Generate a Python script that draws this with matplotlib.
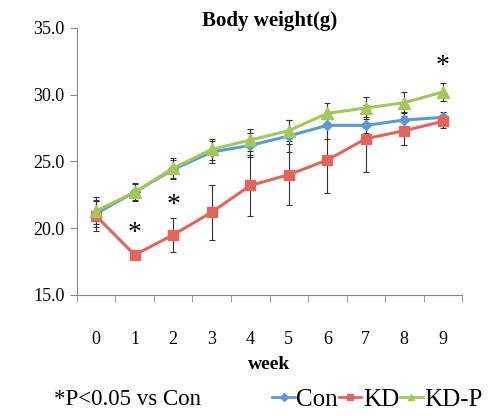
import numpy as np
import matplotlib
matplotlib.use("Agg")
import matplotlib.pyplot as plt
from matplotlib.lines import Line2D

plt.rcParams['font.family'] = ['Liberation Serif', 'DejaVu Serif']

weeks = [0, 1, 2, 3, 4, 5, 6, 7, 8, 9]
con = [21.1, 22.7, 24.4, 25.7, 26.2, 26.9, 27.7, 27.7, 28.1, 28.3]
kd = [20.9, 18.0, 19.5, 21.2, 23.2, 24.0, 25.1, 26.7, 27.3, 28.0]
kdp = [21.3, 22.7, 24.5, 25.9, 26.6, 27.3, 28.6, 29.0, 29.4, 30.2]
con_err = [1.0, 0.6, 0.7, 0.8, 0.9, 1.2, 1.0, 0.6, 0.6, 0.4]
kd_err = [1.1, 0.3, 1.25, 2.05, 2.3, 2.3, 2.5, 2.5, 1.1, 0.5]
kdp_err = [1.0, 0.7, 0.75, 0.8, 0.8, 0.8, 0.8, 0.8, 0.8, 0.7]
star_weeks = [1, 2, 9]
star_y = [19.6, 21.7, 32.1]

c_con = '#5B9BD5'
c_kd = '#E0665C'
c_kdp = '#A5C65A'

fig = plt.figure(figsize=(4.9, 4.16), dpi=100)
ax = fig.add_axes([0.157, 0.291, 0.786, 0.642])

for y, e, c, m, ms in [(con, con_err, c_con, 'D', 5),
                       (kd, kd_err, c_kd, 's', 7),
                       (kdp, kdp_err, c_kdp, '^', 8)]:
    ax.errorbar(weeks, y, yerr=e, fmt='none', ecolor='#333333', elinewidth=0.8,
                capsize=2, capthick=0.8, zorder=2)
    ax.plot(weeks, y, color=c, lw=2.2, marker=m, ms=ms, zorder=3)

for w, s in zip(star_weeks, star_y):
    ax.text(w, s, '*', ha='center', va='center', fontsize=20)

ax.set_xlim(-0.5, 9.5)
ax.set_ylim(15, 35)
ax.set_yticks([15, 20, 25, 30, 35])
ax.set_yticklabels(['%.1f' % v for v in [15, 20, 25, 30, 35]], fontsize=13)
ax.set_xticks(weeks)
ax.set_xticklabels([str(w) for w in weeks], fontsize=13)
ax.set_xticks(np.arange(-0.5, 10, 1), minor=True)
ax.tick_params(axis='x', which='major', length=0, pad=26)
ax.tick_params(axis='x', which='minor', length=5, color='#888888')
ax.tick_params(axis='y', length=5, color='#888888', pad=4)
for s in ['top', 'right']:
    ax.spines[s].set_visible(False)
for s in ['left', 'bottom']:
    ax.spines[s].set_color('#888888')

ax.set_xlabel('week', fontsize=14, fontweight='bold', labelpad=6)
fig.text(0.55, 0.95, 'Body weight(g)', ha='center', va='center',
         fontsize=15, fontweight='bold')
fig.text(0.11, 0.04, '*P<0.05 vs Con', ha='left', va='center', fontsize=16.5)

handles = [Line2D([], [], color=c_con, lw=2, marker='D', ms=4),
           Line2D([], [], color=c_kd, lw=2, marker='s', ms=5),
           Line2D([], [], color=c_kdp, lw=2, marker='^', ms=5)]
fig.legend(handles, ['Con', 'KD', 'KD-P'], loc='center right',
           bbox_to_anchor=(1.015, 0.04), ncol=3, frameon=False, fontsize=18,
           handlelength=0.9, handletextpad=0.05, columnspacing=0.05,
           borderpad=0.1)

fig.savefig('out.png', dpi=100)
